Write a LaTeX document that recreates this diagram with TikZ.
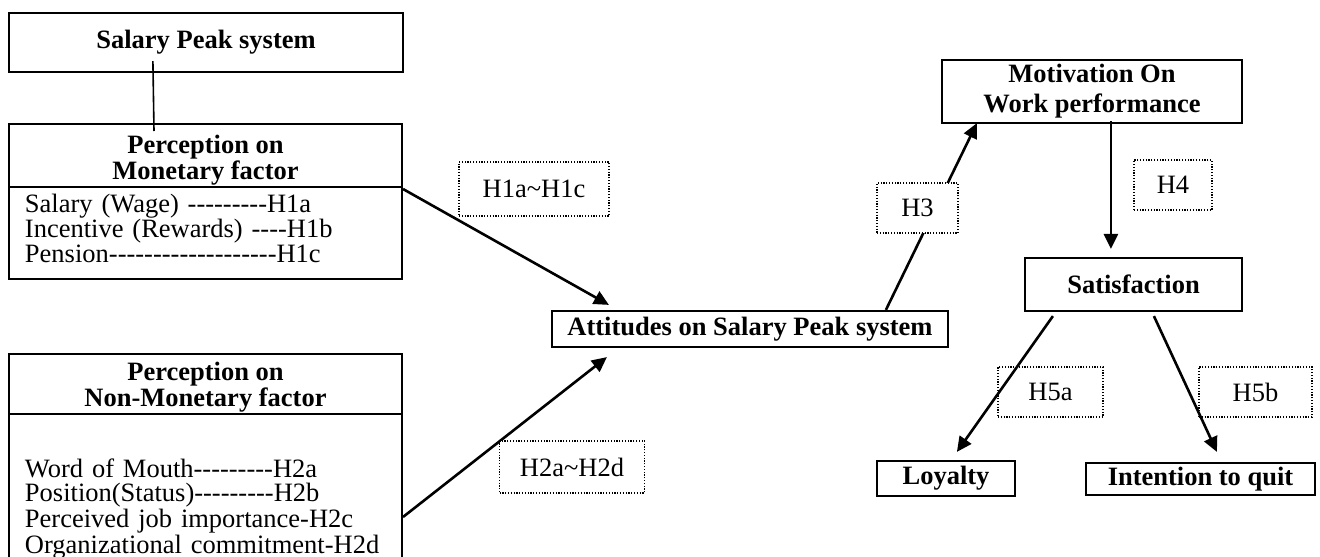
\documentclass[tikz,border=0pt]{standalone}
\usepackage{fontspec}
\setmainfont{Liberation Serif}
\usetikzlibrary{arrows.meta, positioning, calc}
\newlength{\pxu}
\setlength{\pxu}{0.5pt}
\newcommand{\dashes}[1]{\foreach \k in {1,...,#1}{\mbox{-}}}
\tikzset{
	box/.style={
		rectangle,
		draw=black,
		line width=1.1pt,
		inner sep=0pt,
		align=center,
		font=\fontsize{13.25}{12}\selectfont\bfseries
	},
	head/.style={
		box,
		outer sep=0pt,
		minimum width=393\pxu,
		minimum height=63\pxu
	},
	list/.style={
		rectangle,
		draw=black,
		line width=1.1pt,
		outer sep=0pt,
		text width=361\pxu,
		inner xsep=16\pxu,
		inner ysep=0pt,
		align=left,
		font=\fontsize{13.25}{12.5}\selectfont
	},
	hyp/.style={
		rectangle,
		draw=black,
		fill=white,
		line width=0.6pt,
		dash pattern=on 0.6pt off 0.8pt,
		font=\fontsize{13.25}{13.5}\selectfont
	},
	arrow/.style={line width=1.3pt,-{Triangle[length=7.5pt,width=7pt]}}
}

\begin{document}
\begin{tikzpicture}[x=0.5pt,y=-0.5pt]
	\clip (0,0) rectangle (1320,556);
	\node (spb) [box, minimum width=394\pxu, minimum height=59\pxu] at (206,42.5) {Salary Peak system};
	\node (monhead) [head] at (205.5,155.5) {\rule{0pt}{14pt}Perception on\\Monetary factor};
	\node (monlist) [list, minimum height=92\pxu, below=0pt of monhead] {Salary (Wage) \dashes{9}H1a\\Incentive (Rewards) \dashes{4}H1b\\Pension\dashes{19}H1c\rule[-4.5pt]{0pt}{1pt}};
	\node (nonhead) [head, minimum height=60\pxu] at (205.5,384) {\rule{0pt}{12.5pt}Perception on\\Non-Monetary factor};
	\node (nonlist) [list, minimum height=184\pxu, below=0pt of nonhead, font=\fontsize{13.25}{12}\selectfont] {\mbox{}\\Word of Mouth\dashes{9}H2a\\Position(Status)\dashes{9}H2b\\Perceived job importance-H2c\\Organizational commitment-H2d};

	\node (att) [box, minimum width=396\pxu, minimum height=36\pxu] at (750,329) {Attitudes on Salary Peak system};
	\node (mot) [box, minimum width=300\pxu, minimum height=63\pxu, font=\fontsize{13.25}{15}\selectfont\bfseries] at (1092,91.5) {Motivation On\\Work performance};
	\node (sat) [box, minimum width=217\pxu, minimum height=53\pxu] at (1133.5,284.5) {Satisfaction};
	\node (loy) [box, minimum width=138\pxu, minimum height=35\pxu] at (946,478.5) {Loyalty};
	\node (quit) [box, minimum width=229\pxu, minimum height=32\pxu] at (1200.5,479) {Intention to quit};

	\draw [line width=0.8pt] ($(spb.south west)+(145,-12)$) -- ($(monhead.north west)+(145,7)$);
	\draw [arrow] ($(monhead.south east)+(1,2)$) -- ($(att.north west)+(58,-5)$);
	\draw [arrow] ($(nonlist.north east)+(1,103)$) -- ($(att.south west)+(56,9)$);
	\draw [arrow] ($(att.north west)+(335,0)$) -- ($(mot.south west)+(36,-1)$);
	\draw [arrow] ($(mot.south west)+(170,-3)$) -- ($(sat.north west)+(87,-8)$);

	\node (h1) [hyp, minimum width=150\pxu, minimum height=54\pxu] at (534,189) {H1a\textasciitilde H1c};
	\node (h2) [hyp, minimum width=145\pxu, minimum height=52\pxu] at (572,467) {H2a\textasciitilde H2d};
	\node (h3) [hyp, minimum width=81\pxu, minimum height=50\pxu] at (917.5,208) {H3};
	\node (h4) [hyp, minimum width=78\pxu, minimum height=50\pxu] at (1173,185) {H4};
	\node (h5a) [hyp, minimum width=105\pxu, minimum height=50\pxu] at (1050.5,392) {H5a};
	\node (h5b) [hyp, minimum width=113\pxu, minimum height=50\pxu] at (1255.5,392) {H5b};

	\draw [arrow] ($(sat.south west)+(29,4)$) -- ($(loy.north west)+(81,-8)$);
	\draw [arrow] ($(sat.south west)+(130,4)$) -- ($(quit.north west)+(132,-10)$);
\end{tikzpicture}
\end{document}
